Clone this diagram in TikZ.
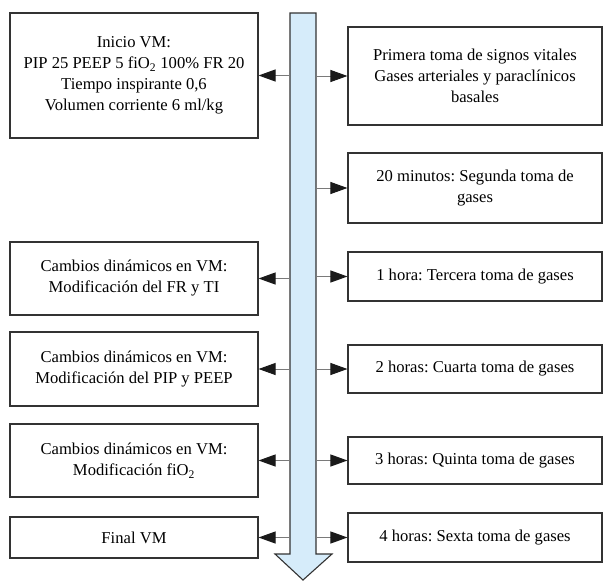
\documentclass[tikz,border=0pt]{standalone}
\usepackage{fontspec}
\setmainfont{Liberation Serif}
\usepackage[HTML]{xcolor}
\usetikzlibrary{positioning, arrows.meta}
\definecolor{shaftblue}{HTML}{D6ECFA}
\definecolor{boxline}{HTML}{333333}
\definecolor{linkgray}{HTML}{7A7A7A}
\frenchspacing

\begin{document}
\begin{tikzpicture}[x=1pt,y=-1pt,
  stepbox/.style={draw=boxline,line width=1.1pt,align=center,inner sep=2pt,font=\fontsize{16.6}{21}\selectfont},
  lbox/.style={stepbox,minimum width=248pt},
  rbox/.style={stepbox,minimum width=254pt},
  link/.style={draw=linkgray,line width=1pt,-{Triangle[length=17pt,width=12pt,color=black!90]}}]
\useasboundingbox (0,0) rectangle (604,581);
% main time arrow
\draw[boxline,line width=1.1pt,fill=shaftblue] (290,13) -- (316,13) -- (316,554) -- (332,554) -- (303,580) -- (275,554) -- (290,554) -- cycle;
\coordinate (shL) at (290,0);
\coordinate (shR) at (316,0);
% left column
\node[lbox,minimum height=125pt] (L1) at (134,75.5) {Inicio VM:\\PIP 25 PEEP 5 fiO\textsubscript{2} 100\% FR 20\\Tiempo inspirante 0,6\\Volumen corriente 6 ml/kg};
\node[lbox,minimum height=73pt] (L2) at (134,278.5) {Cambios dinámicos en VM:\\Modificación del FR y TI};
\node[lbox,minimum height=74pt] (L3) at (134,369) {Cambios dinámicos en VM:\\Modificación del PIP y PEEP};
\node[lbox,minimum height=73pt] (L4) at (134,460.5) {Cambios dinámicos en VM:\\Modificación fiO\textsubscript{2}};
\node[lbox,minimum height=41pt] (L5) at (134,537.5) {Final VM};
% right column
\node[rbox,minimum height=98pt] (R1) at (475,76) {Primera toma de signos vitales\\Gases arteriales y paraclínicos\\basales};
\node[rbox,minimum height=70pt] (R2) at (475,188) {20 minutos: Segunda toma de\\gases};
\node[rbox,minimum height=49pt] (R3) at (475,276.5) {1 hora: Tercera toma de gases};
\node[rbox,minimum height=48pt] (R4) at (475,369) {2 horas: Cuarta toma de gases};
\node[rbox,minimum height=47pt] (R5) at (475,460.5) {3 horas: Quinta toma de gases};
\node[rbox,minimum height=49pt] (R6) at (475,537.5) {4 horas: Sexta toma de gases};
% links
\foreach \n in {L1,L2,L3,L4,L5}
  \draw[link] (shL |- \n.east) -- (\n.east);
\foreach \n in {R1,R2,R3,R4,R5,R6}
  \draw[link] (shR |- \n.west) -- (\n.west);
\end{tikzpicture}
\end{document}
